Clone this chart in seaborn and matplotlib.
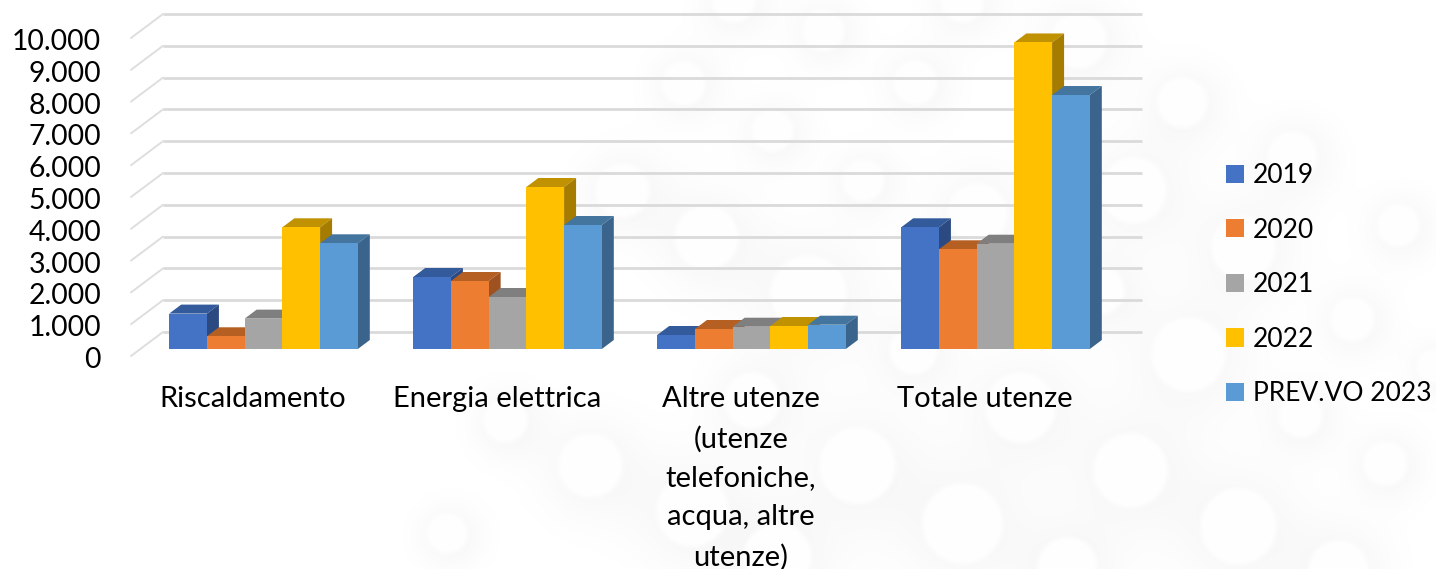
import numpy as np
import pandas as pd
import matplotlib
matplotlib.use("Agg")
import matplotlib.pyplot as plt
from matplotlib.patches import Polygon
from matplotlib.transforms import ScaledTranslation
import seaborn as sns

categories = ["Riscaldamento", "Energia elettrica",
              "Altre utenze\n(utenze\ntelefoniche,\nacqua, altre\nutenze)", "Totale utenze"]
series_names = ["2019", "2020", "2021", "2022", "PREV.VO 2023"]
v2019 = [1113, 2264, 440, 3827]
v2020 = [400, 2138, 629, 3135]
v2021 = [955, 1635, 701, 3311]
v2022 = [3827, 5094, 723, 9640]
vprev = [3324, 3899, 764, 7987]
all_series = [v2019, v2020, v2021, v2022, vprev]
y_ticks = list(range(0, 11000, 1000))
y_labels = ["0", "1.000", "2.000", "3.000", "4.000", "5.000", "6.000", "7.000", "8.000", "9.000", "10.000"]

front_colors = ["#4472C4", "#ED7D31", "#A5A5A5", "#FFC000", "#5B9BD5"]
top_colors = ["#335A9B", "#B55F23", "#7F7F7F", "#C09100", "#44759F"]
side_colors = ["#2C4A82", "#9E5220", "#6E6E6E", "#A67C00", "#3A648C"]

W, H = 1436, 569
FS_Y = 20.4
FS_X = 21
FS_L = 19
sns.set_theme(style="white")
plt.rcParams["font.family"] = ["Lato", "DejaVu Sans"]
fig = plt.figure(figsize=(W / 100, H / 100), dpi=100, facecolor="white")

# soft bokeh backdrop (x, y, r in pixels)
bokeh = [(1182,102,25),(1133,190,33),(1292,156,25),(1243,247,32),(1398,225,21),(1352,319,22),
         (1188,354,37),(1300,415,22),(1385,463,22),(1130,470,37),(1238,526,38),(1338,570,30),
         (1433,366,17),(1100,290,24),(505,420,22),(590,465,32),(447,533,20),(752,400,28),
         (857,465,38),(1020,407,35),(962,523,40),(692,510,36),(777,557,34),(1067,567,30),
         (683,83,22),(823,30,21),(915,82,22),(772,130,21),(863,180,21),(622,190,27),
         (706,237,32),(808,293,38),(977,213,30),(733,0,22),(962,0,22),(1078,40,28),(913,350,24)]
yy, xx = np.mgrid[0:H, 0:W]
shade = np.ones((H, W))
for cx, cy, r in bokeh:
    d2 = (xx - cx - 3) ** 2 + (yy - cy - 3) ** 2
    shade *= 1 - 0.036 * np.exp(-d2 / (2 * (r * 1.15) ** 2))
for cx, cy, r in bokeh:
    d = np.hypot(xx - cx, yy - cy)
    a = np.clip((r - d) / 6 + 0.5, 0, 1)
    shade = shade * (1 - a) + 0.995 * a
bg = fig.add_axes([0, 0, 1, 1], zorder=-1)
bg.imshow(shade, cmap="gray", vmin=0, vmax=1, aspect="auto", interpolation="bilinear")
bg.axis("off")

# main axes: bar plane runs from pixel y=349 (0) upward, 31.8 px per 1000
PX_PER_UNIT_Y = 0.0318
GROUP_PX = 244.0
C0 = 263.5
L, R, T, B = 131, 1142, 14, 349
ax = fig.add_axes([L / W, 1 - B / H, (R - L) / W, (B - T) / H], zorder=1)
ax.patch.set_alpha(0)

df = pd.DataFrame({
    "cat": np.tile(categories, len(series_names)),
    "serie": np.repeat(series_names, len(categories)),
    "val": np.concatenate(all_series),
})
sns.barplot(data=df, x="cat", y="val", hue="serie", hue_order=series_names, order=categories,
            palette=front_colors, saturation=1, width=0.773, gap=0, ax=ax, linewidth=0)

px_x = lambda p: (p - C0) / GROUP_PX
ax.set_xlim(px_x(L), px_x(R))
ax.set_ylim(0, (B - T) / PX_PER_UNIT_Y)
ax.set_xlabel("")
ax.set_ylabel("")
sns.despine(ax=ax, left=True, bottom=True, top=True, right=True)

DX = 12 / GROUP_PX
DY = 9 / PX_PER_UNIT_Y
BACK = 17 / PX_PER_UNIT_Y
FRONT = -7 / PX_PER_UNIT_Y
for i, cont in enumerate(ax.containers):
    for bar in cont:
        x0, w, h = bar.get_x(), bar.get_width(), bar.get_height()
        bar.set_zorder(10 + 3 * i)
        bar.set_clip_on(False)
        ax.add_patch(Polygon([(x0, h), (x0 + w, h), (x0 + w + DX, h + DY), (x0 + DX, h + DY)],
                             closed=True, fc=top_colors[i], ec="none", zorder=9 + 3 * i, clip_on=False))
        ax.add_patch(Polygon([(x0 + w, 0), (x0 + w + DX, DY), (x0 + w + DX, h + DY), (x0 + w, h)],
                             closed=True, fc=side_colors[i], ec="none", zorder=9 + 3 * i, clip_on=False))

for v in y_ticks:
    ax.plot([px_x(163), px_x(R)], [v + BACK, v + BACK], color="#DADADA", lw=2.0, zorder=2,
            clip_on=False, solid_capstyle="butt")
    ax.plot([px_x(L), px_x(163)], [v + FRONT, v + BACK], color="#DEDEDE", lw=1.4, zorder=2,
            clip_on=False, solid_capstyle="round")

ax.tick_params(axis="y", length=0, pad=30 * 0.72, labelsize=FS_Y, labelcolor="black")
ax.tick_params(axis="x", length=0, pad=37 * 0.72, labelsize=FS_X, labelcolor="black")
ax.set_yticks(y_ticks)
ax.set_yticklabels(y_labels)
ax.set_xticks(range(len(categories)))
ax.set_xticklabels(categories, linespacing=1.62, ha="center", va="top")
shift_y = ScaledTranslation(0, -8.5 / 100, fig.dpi_scale_trans)
shift_x = ScaledTranslation(-10.5 / 100, 0, fig.dpi_scale_trans)
for t in ax.get_yticklabels():
    t.set_transform(t.get_transform() + shift_y)
for t in ax.get_xticklabels():
    t.set_transform(t.get_transform() + shift_x)

fpx = FS_L * 100 / 72
handles, labels = ax.get_legend_handles_labels()
ax.legend(handles, labels, loc="upper left", bbox_to_anchor=(1226 / W, 1 - 163 / H),
          bbox_transform=fig.transFigure, frameon=False, fontsize=FS_L, borderpad=0, borderaxespad=0,
          handlelength=18 / fpx, handleheight=18 / fpx, handletextpad=9 / fpx, labelspacing=1.12,
          labelcolor="black")

fig.savefig("out.png", dpi=100)
